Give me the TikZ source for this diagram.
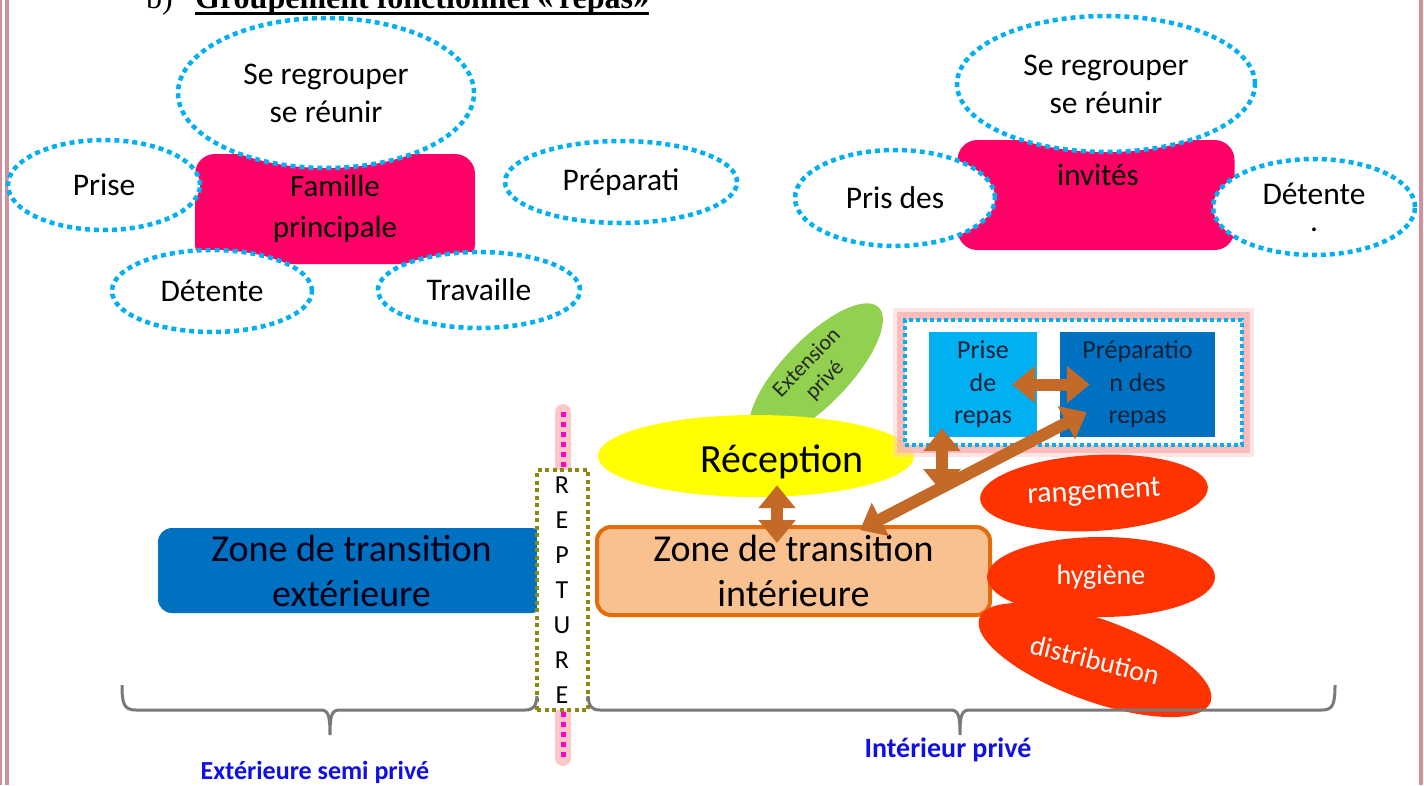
\documentclass[tikz,border=0pt]{standalone}
\usepackage{fontspec}
\setmainfont{Carlito}
\newfontfamily\titlefont{Liberation Serif}
\usetikzlibrary{shapes.geometric,arrows.meta}
\definecolor{dotblue}{HTML}{00B0F0}
\definecolor{hotpink}{HTML}{FF0066}
\definecolor{darkblue}{HTML}{0070C0}
\definecolor{peach}{HTML}{F9C18F}
\definecolor{orangeline}{HTML}{E46C0A}
\definecolor{redfill}{HTML}{FF3300}
\definecolor{greenfill}{HTML}{92D050}
\definecolor{arrowc}{HTML}{C46A28}
\definecolor{olive}{HTML}{8A8A10}
\definecolor{magline}{HTML}{FF00CC}
\definecolor{borderpink}{HTML}{D0909C}
\definecolor{navy}{HTML}{10213A}
\definecolor{labelblue}{HTML}{1010E6}
\definecolor{pureyellow}{HTML}{FFFF00}
\tikzset{
  dotell/.style={ellipse, draw=dotblue, fill=white, line width=4.5pt,
    dash pattern=on 5pt off 4pt, inner sep=0pt, align=center,
    font=\fontsize{31.5}{38}\selectfont},
  pinkbox/.style={rectangle, rounded corners=20pt, fill=hotpink, inner sep=0pt,
    align=center, font=\fontsize{31}{41}\selectfont},
  redell/.style={ellipse, fill=redfill, inner sep=0pt, text=white,
    font=\fontsize{28}{32}\selectfont},
  fatarrow/.style={draw=arrowc, line width=12pt,
    {Triangle[width=36pt,length=23pt]}-{Triangle[width=36pt,length=23pt]}},
  smallbox/.style={rectangle, inner sep=0pt, align=center, text=navy,
    font=\fontsize{26}{32.5}\selectfont},
  zonebox/.style={rectangle, rounded corners=14pt, inner sep=0pt, align=center,
    font=\fontsize{38}{45}\selectfont},
  bracestyle/.style={draw=gray!95!black, line width=3pt},
  zonelabel/.style={text=labelblue, font=\fontsize{26}{29}\selectfont\bfseries}
}
\begin{document}
\begin{tikzpicture}[x=1pt,y=-1pt]
\useasboundingbox[fill=white] (0,0) rectangle (1424,785);
% page borders
\fill[borderpink] (0,0) rectangle (2,785);
\fill[borderpink] (5,0) rectangle (9,785);
\fill[borderpink] (1419,0) rectangle (1423,785);
% title
\node[anchor=base west, inner sep=0pt, font=\titlefont\fontsize{32}{34}\selectfont] (b) at (146,8) {b)};
\node[anchor=base west, inner sep=0pt, font=\titlefont\bfseries\fontsize{32}{34}\selectfont] (title) at (195,8) {Groupement fonctionnel «\,repas»};
\draw[line width=3pt] (title.base west) ++(0,-5pt) coordinate (ul1) -- (ul1 -| title.east);
% ---------- top-left group ----------
\node[pinkbox, minimum width=280pt, minimum height=110pt] (fam) at (335,209) {Famille\\principale};
\node[dotell, minimum width=296pt, minimum height=150pt] (reg1) at (326,93) {Se regrouper\\se réunir};
\node[dotell, minimum width=192pt, minimum height=90pt] (prise1) at (104,185) {Prise};
\node[dotell, minimum width=232pt, minimum height=82pt] (prep1) at (621,182) {Préparati};
\node[dotell, minimum width=200pt, minimum height=82pt] (det1) at (212,291) {Détente};
\node[dotell, minimum width=202pt, minimum height=76pt] (trav1) at (479,290) {Travaille};
% ---------- top-right group ----------
\node[pinkbox, minimum width=277pt, minimum height=110pt] (inv) at (1096,195) {};
\node[font=\fontsize{31}{37}\selectfont, inner sep=0pt] (invtxt) at (1098,175) {invités};
\node[dotell, minimum width=298pt, minimum height=136pt] (reg2) at (1106,84) {Se regrouper\\se réunir};
\node[dotell, minimum width=200pt, minimum height=96pt] (pris2) at (895,198) {Pris des};
\node[dotell, minimum width=202pt, minimum height=96pt, font=\fontsize{31.5}{27}\selectfont] (det2) at (1314,207) {Détente\\.};
% ---------- bottom ----------
\node[ellipse, fill=greenfill, minimum width=180pt, minimum height=66pt, inner sep=0pt, rotate=46,
  align=center, font=\fontsize{22}{25}\selectfont, text=black!85] (ext) at (816,372) {Extension\\privé};
\node[ellipse, fill=pureyellow, minimum width=316pt, minimum height=82pt, inner sep=0pt] (recep) at (756,456) {};
\node[font=\fontsize{40}{44}\selectfont, inner sep=0pt] (receptxt) at (782,462) {Réception};
% group box
\draw[line width=16pt, draw=red!20, opacity=0.5] (901,316) rectangle (1246,449);
\draw[line width=8pt, draw=red!30, opacity=0.8] (901,316) rectangle (1246,449);
\node[rectangle, fill=white, draw=dotblue, line width=4pt, dash pattern=on 4pt off 3pt,
  minimum width=337pt, minimum height=125pt] (grp) at (1073.5,382.5) {};
\node[smallbox, fill=dotblue, minimum width=108pt, minimum height=105pt] (prise) at (983,384.5) {Prise\\de\\repas};
\node[smallbox, fill=darkblue, minimum width=155pt, minimum height=105pt] (prep) at (1137.5,384.5) {Préparatio\\n des\\repas};
% zones
\node[zonebox, fill=darkblue, minimum width=387pt, minimum height=85pt, text=black!90!blue] (ze) at (351.5,570.5) {Zone de transition\\extérieure};
\node[zonebox, fill=peach, draw=orangeline, line width=4pt, minimum width=393pt, minimum height=88pt] (zi) at (793.5,571) {Zone de transition\\intérieure};
% red ellipses
\node[redell, minimum width=228pt, minimum height=76pt, rotate=3, font=\fontsize{30}{32}\selectfont] (rang) at (1094,493) {rangement};
\node[redell, minimum width=228pt, minimum height=80pt] (hyg) at (1101,577) {hygiène};
\node[redell, minimum width=246pt, minimum height=82pt, rotate=-20] (dist) at (1095,660) {\rotatebox{6}{distribution}};
% arrows
\draw[fatarrow] ([xshift=-25pt]prise.east) -- ([xshift=30pt]prep.west);
\draw[fatarrow] ([xshift=21pt,yshift=12pt]recep.south) -- ([xshift=-16.5pt,yshift=-18pt]zi.north);
\coordinate (v2end) at ([xshift=-41pt,yshift=-55pt]prise.south);
\draw[fatarrow] ([xshift=-41pt,yshift=9pt]prise.south) -- (v2end);
\draw[fatarrow] ([xshift=66.5pt,yshift=-5pt]zi.north) -- ([xshift=27pt,yshift=25pt]prep.south west);
% rupture line
\draw[line width=16pt, draw=red!30, opacity=0.7, line cap=round] (563,412) -- (563,758);
\draw[line width=5pt, draw=magline, dash pattern=on 5pt off 5pt] (563,412) -- (563,758);
\node[rectangle, fill=white, draw=olive, line width=3.5pt, dash pattern=on 4pt off 3.5pt,
  minimum width=51pt, minimum height=240pt, inner sep=0pt] (rupt) at (562.5,590) {};
\node[anchor=north, align=center, inner sep=0pt, font=\fontsize{26}{35}\selectfont] (rtxt) at (562,477) {R\\E\\P\\T\\U\\R\\E};
% braces
\draw[bracestyle] (122,685) .. controls (122,704) and (124,710) .. (136,710) -- (320,710)
  .. controls (328,710) and (330,714) .. (330,735) .. controls (330,714) and (332,710) .. (340,710)
  -- (525,710) .. controls (534,710) and (536,706) .. (537,696);
\draw[bracestyle] (588,696) .. controls (589,706) and (591,710) .. (600,710) -- (950,710)
  .. controls (958,710) and (960,714) .. (960,735) .. controls (960,714) and (962,710) .. (970,710)
  -- (1322,710) .. controls (1333,710) and (1335,704) .. (1335,685);
\node[zonelabel] (lab1) at (315,772) {Extérieure semi privé};
\node[zonelabel, font=\fontsize{28}{30}\selectfont\bfseries] (lab2) at (948,750) {Intérieur privé};
\end{tikzpicture}
\end{document}
